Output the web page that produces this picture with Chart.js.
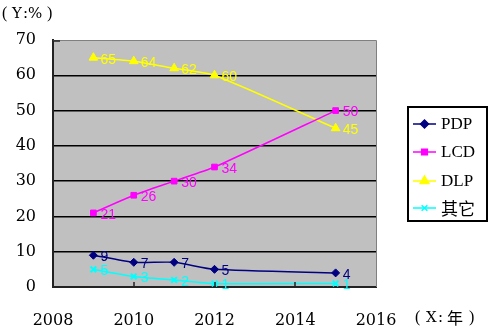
<!DOCTYPE html>
<html>
<head>
<meta charset="utf-8">
<script src="https://cdn.jsdelivr.net/npm/chart.js@4/dist/chart.umd.min.js"></script>
<style>
  html, body { margin: 0; padding: 0; background: #fff; }
  #wrap { width: 500px; height: 334px; position: relative; }
</style>
</head>
<body>
<div id="wrap"><canvas id="shareChart" width="500" height="334"></canvas></div>
<script>
// 연도별 점유율 (%)
const years = [2009, 2010, 2011, 2012, 2015];
const pdpShare = [9, 7, 7, 5, 4];
const lcdShare = [21, 26, 30, 34, 50];
const dlpShare = [65, 64, 62, 60, 45];
const otherShare = [5, 3, 2, 1, 1];

const seriesNames = ["PDP", "LCD", "DLP", "其它"];
const seriesColors = ["#000080", "#FF00FF", "#FFFF00", "#00FFFF"];
const seriesMarkers = ["rectRot", "rect", "triangle", "crossRot"];
const markerSizes = [4, 4, 5, 4];

const tickFamily = "'DejaVu Serif', 'Liberation Serif', serif";

function toPoints(values) {
    return years.map((y, i) => ({ x: y, y: values[i] }));
}

const datasets = [pdpShare, lcdShare, dlpShare, otherShare].map((vals, i) => ({
    label: seriesNames[i],
    data: toPoints(vals),
    showLine: true,
    borderColor: seriesColors[i],
    backgroundColor: seriesColors[i],
    borderWidth: 1.5,
    tension: 0.2,
    pointStyle: seriesMarkers[i],
    pointRadius: markerSizes[i],
    pointBorderWidth: i === 3 ? 2 : 1,
    pointBorderColor: seriesColors[i],
    pointBackgroundColor: seriesColors[i]
}));

// 회색 플롯 배경 + 상단/우측 테두리
const plotFrame = {
    id: "plotFrame",
    beforeDraw(chart) {
        const { ctx, chartArea: a } = chart;
        ctx.save();
        ctx.fillStyle = "#C0C0C0";
        ctx.fillRect(a.left, a.top, a.right - a.left, a.bottom - a.top);
        ctx.restore();
    },
    afterDatasetsDraw(chart) {
        const { ctx, chartArea: a, scales } = chart;
        ctx.save();
        ctx.strokeStyle = "#808080";
        ctx.lineWidth = 1;
        ctx.beginPath();
        ctx.moveTo(a.left, a.top + 0.5);
        ctx.lineTo(a.right + 0.5, a.top + 0.5);
        ctx.lineTo(a.right + 0.5, a.bottom);
        ctx.stroke();
        // 안쪽 눈금
        ctx.strokeStyle = "#222";
        ctx.lineWidth = 1.5;
        [2010, 2012, 2014].forEach(v => {
            const x = Math.round(scales.x.getPixelForValue(v));
            ctx.beginPath();
            ctx.moveTo(x, a.bottom);
            ctx.lineTo(x, a.bottom - 5);
            ctx.stroke();
        });
        ctx.beginPath();
        ctx.moveTo(a.left, a.top + 1);
        ctx.lineTo(a.left + 7, a.top + 1);
        ctx.stroke();
        ctx.restore();
    }
};

// 데이터 값 라벨
const valueLabels = {
    id: "valueLabels",
    afterDatasetsDraw(chart) {
        const ctx = chart.ctx;
        ctx.save();
        ctx.font = "14px 'Liberation Sans', Arial, sans-serif";
        ctx.textBaseline = "middle";
        ctx.textAlign = "left";
        chart.data.datasets.forEach((ds, i) => {
            const meta = chart.getDatasetMeta(i);
            ctx.fillStyle = seriesColors[i];
            meta.data.forEach((pt, j) => {
                ctx.fillText(String(ds.data[j].y), pt.x + 7, pt.y + 2);
            });
        });
        ctx.restore();
    }
};

// 전각 괄호 축 제목: 글자별로 위치 지정
function drawAxisTitle(ctx, parts, y) {
    parts.forEach(([text, x, font]) => {
        ctx.font = font;
        ctx.fillText(text, x, y);
    });
}

// 축 제목 + 범례
const extras = {
    id: "extras",
    afterDraw(chart) {
        const ctx = chart.ctx;
        ctx.save();
        ctx.fillStyle = "#000";
        ctx.textBaseline = "middle";
        ctx.textAlign = "left";
        const paren = "16px 'Liberation Serif', serif";
        const latin = "15px " + tickFamily;
        const cjk = "16px 'Noto Sans CJK SC', serif";
        drawAxisTitle(ctx, [
            ["(", 2, paren], ["Y", 12, latin], [":", 23, latin], ["%", 28, latin], [")", 47, paren]
        ], 14);
        drawAxisTitle(ctx, [
            ["(", 415, paren], ["X", 426, latin], [":", 438, latin], ["年", 447, cjk], [")", 469, paren]
        ], 318);

        // 범례 상자
        const bx = 408, by = 107, bw = 79, bh = 114;
        ctx.fillStyle = "#fff";
        ctx.fillRect(bx, by, bw, bh);
        ctx.strokeStyle = "#000";
        ctx.lineWidth = 2;
        ctx.strokeRect(bx, by, bw, bh);

        const rows = [124, 152, 181, 208];
        rows.forEach((y, i) => {
            ctx.strokeStyle = seriesColors[i];
            ctx.lineWidth = 1.5;
            ctx.beginPath();
            ctx.moveTo(413, y);
            ctx.lineTo(436, y);
            ctx.stroke();
            ctx.fillStyle = seriesColors[i];
            Chart.helpers.drawPoint(ctx, {
                pointStyle: seriesMarkers[i],
                radius: markerSizes[i],
                borderWidth: i === 3 ? 2 : 1
            }, 424.5, y);
            ctx.fillStyle = "#000";
            ctx.font = i === 3 ? "17px 'Noto Sans CJK SC', serif" : "17px 'Liberation Serif', serif";
            ctx.fillText(seriesNames[i], 441, y + 1);
        });
        ctx.restore();
    }
};

new Chart(document.getElementById("shareChart").getContext("2d"), {
    type: "scatter",
    data: { datasets },
    options: {
        responsive: false,
        animation: false,
        layout: { padding: { top: 40, right: 124, left: 0, bottom: 0 } },
        plugins: {
            legend: { display: false },
            tooltip: { enabled: false }
        },
        scales: {
            x: {
                type: "linear",
                min: 2008,
                max: 2016,
                afterFit: scale => { scale.height = 47; },
                ticks: {
                    stepSize: 2,
                    padding: 24,
                    color: "#000",
                    font: { family: tickFamily, size: 16 },
                    callback: v => String(v)
                },
                grid: { display: false, drawTicks: false },
                border: { display: true, color: "#222", width: 2 }
            },
            y: {
                min: 0,
                max: 70,
                afterFit: scale => { scale.width = 53; },
                ticks: {
                    stepSize: 10,
                    padding: 17,
                    color: "#000",
                    font: { family: tickFamily, size: 16 }
                },
                grid: {
                    drawTicks: false,
                    color: ctx => (ctx.tick && (ctx.tick.value === 0 || ctx.tick.value === 70)) ? "rgba(0,0,0,0)" : "#000",
                    lineWidth: 1.5
                },
                border: { display: true, color: "#222", width: 2 }
            }
        }
    },
    plugins: [plotFrame, valueLabels, extras]
});
</script>
</body>
</html>
